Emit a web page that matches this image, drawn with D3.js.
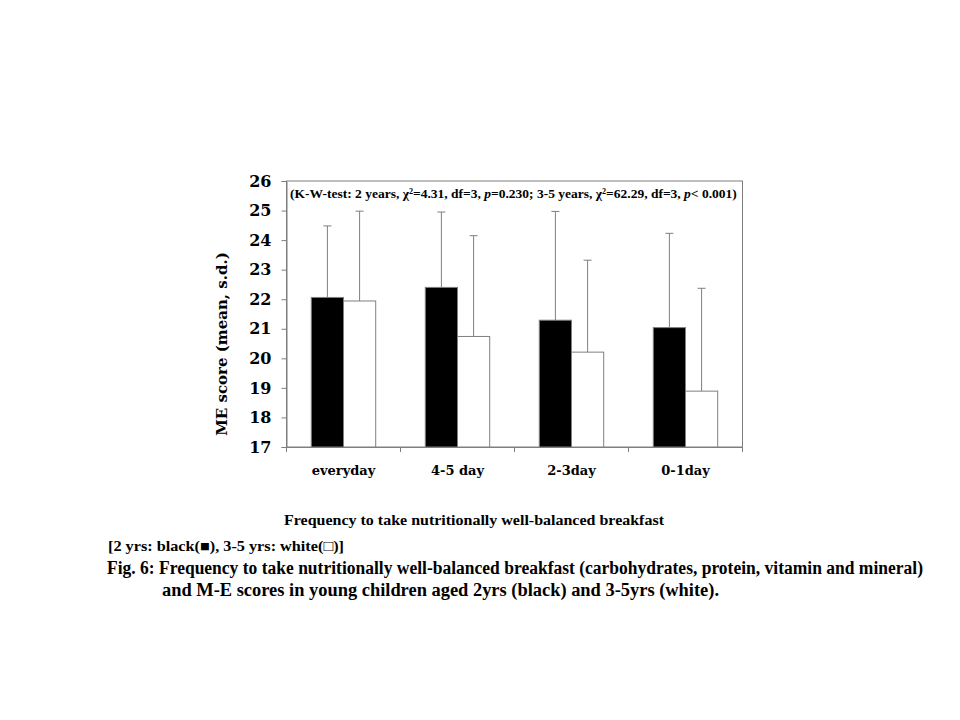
<!DOCTYPE html>
<html>
<head>
<meta charset="utf-8">
<script src="https://cdn.jsdelivr.net/npm/d3@7"></script>
<style>
  body { margin: 0; background: #fff; }
  svg text { fill: #000; }
</style>
</head>
<body>
<svg id="chart" width="960" height="720"></svg>
<script>
// values (mean and s.d.)
var categories = ["everyday", "4-5 day", "2-3day", "0-1day"];
var series = ["2 yrs", "3-5 yrs"];
var mean2yrs = [22.06, 22.40, 21.29, 21.04];
var sd2yrs = [2.42, 2.55, 3.68, 3.19];
var mean35yrs = [21.94, 20.74, 20.21, 18.89];
var sd35yrs = [3.04, 3.41, 3.11, 3.48];
var yTicks = [17, 18, 19, 20, 21, 22, 23, 24, 25, 26];

var svg = d3.select("#chart");
var margin = {left: 286.5, top: 181, right: 742.5, bottom: 447};
var gray = "#7f7f7f";

var x = d3.scaleBand()
    .domain(categories)
    .range([margin.left, margin.right]);

var xInner = d3.scaleBand()
    .domain(series)
    .range([0, x.bandwidth()])
    .paddingOuter(0.77)
    .paddingInner(0);

var y = d3.scaleLinear()
    .domain([17, 26])
    .range([margin.bottom, margin.top]);

var fill = d3.scaleOrdinal()
    .domain(series)
    .range(["#000000", "#ffffff"]);

var data = [];
categories.forEach(function (c, i) {
    data.push({cat: c, s: series[0], mean: mean2yrs[i], sd: sd2yrs[i]});
    data.push({cat: c, s: series[1], mean: mean35yrs[i], sd: sd35yrs[i]});
});

// plot frame
svg.append("rect")
    .attr("x", margin.left)
    .attr("y", margin.top)
    .attr("width", margin.right - margin.left)
    .attr("height", margin.bottom - margin.top)
    .style("fill", "none")
    .style("stroke", gray);

// y axis
var gY = svg.append("g")
    .attr("transform", "translate(" + margin.left + ",0)")
    .call(d3.axisLeft(y).tickValues(yTicks).tickSize(5).tickPadding(10).tickFormat(d3.format("d")));
gY.selectAll("line, path").style("stroke", gray);
gY.selectAll("text")
    .style("font-family", "'DejaVu Serif', serif")
    .style("font-weight", "bold")
    .style("font-size", "16px");

// x axis: ticks between categories
var bounds = categories.map(function (c) { return x(c); }).concat([margin.right]);
svg.append("g").selectAll("line")
    .data(bounds)
    .enter().append("line")
    .attr("x1", function (d) { return d; })
    .attr("x2", function (d) { return d; })
    .attr("y1", margin.bottom)
    .attr("y2", margin.bottom + 5)
    .style("stroke", gray);

var gX = svg.append("g")
    .attr("transform", "translate(0," + margin.bottom + ")")
    .call(d3.axisBottom(x).tickSize(0).tickPadding(19));
gX.select("path.domain").style("stroke", gray);
gX.selectAll("text")
    .style("font-family", "'DejaVu Serif', serif")
    .style("font-weight", "bold")
    .style("font-size", "13px");

// bars
svg.append("g").selectAll("rect")
    .data(data)
    .enter().append("rect")
    .attr("x", function (d) { return x(d.cat) + xInner(d.s); })
    .attr("y", function (d) { return y(d.mean); })
    .attr("width", xInner.bandwidth())
    .attr("height", function (d) { return y(17) - y(d.mean); })
    .style("fill", function (d) { return fill(d.s); })
    .style("stroke", gray);

// error bars (upper only)
function cx(d) { return x(d.cat) + xInner(d.s) + xInner.bandwidth() / 2; }
var err = svg.append("g").selectAll("g")
    .data(data)
    .enter().append("g");
err.append("line")
    .attr("x1", cx)
    .attr("x2", cx)
    .attr("y1", function (d) { return y(d.mean); })
    .attr("y2", function (d) { return y(d.mean + d.sd); })
    .style("stroke", gray);
err.append("line")
    .attr("x1", function (d) { return cx(d) - 4; })
    .attr("x2", function (d) { return cx(d) + 4; })
    .attr("y1", function (d) { return y(d.mean + d.sd); })
    .attr("y2", function (d) { return y(d.mean + d.sd); })
    .style("stroke", gray);

// K-W test note
var note = svg.append("text")
    .attr("x", 290)
    .attr("y", 198)
    .style("font-family", "'Liberation Serif', serif")
    .style("font-weight", "bold")
    .style("font-size", "13.5px");
note.append("tspan").text("(K-W-test:  2 years, \u03C7\u00B2=4.31, df=3, ");
note.append("tspan").style("font-style", "italic").text("p");
note.append("tspan").text("=0.230; 3-5 years, \u03C7\u00B2=62.29, df=3, ");
note.append("tspan").style("font-style", "italic").text("p");
note.append("tspan").text("< 0.001)");

// y label
svg.append("text")
    .attr("transform", "translate(227,344) rotate(-90)")
    .attr("text-anchor", "middle")
    .style("font-family", "'DejaVu Serif', serif")
    .style("font-weight", "bold")
    .style("font-size", "15px")
    .text("ME score (mean, s.d.)");

// x title
svg.append("text")
    .attr("x", 284)
    .attr("y", 525)
    .attr("textLength", 380)
    .attr("lengthAdjust", "spacingAndGlyphs")
    .style("font-family", "'Liberation Serif', serif")
    .style("font-weight", "bold")
    .style("font-size", "14px")
    .text("Frequency to take nutritionally  well-balanced  breakfast");

// legend note
svg.append("text")
    .attr("x", 108)
    .attr("y", 551)
    .attr("textLength", 236)
    .attr("lengthAdjust", "spacingAndGlyphs")
    .style("font-family", "'Liberation Serif', serif")
    .style("font-weight", "bold")
    .style("font-size", "15px")
    .text("[2 yrs: black(\u25A0), 3-5 yrs: white(\u25A1)]");

// caption
svg.append("text")
    .attr("x", 107)
    .attr("y", 574)
    .attr("textLength", 816)
    .attr("lengthAdjust", "spacingAndGlyphs")
    .style("font-family", "'Liberation Serif', serif")
    .style("font-weight", "bold")
    .style("font-size", "18px")
    .text("Fig. 6: Frequency to take nutritionally well-balanced breakfast (carbohydrates, protein, vitamin and mineral)");

svg.append("text")
    .attr("x", 162)
    .attr("y", 596)
    .attr("textLength", 557)
    .attr("lengthAdjust", "spacingAndGlyphs")
    .style("font-family", "'Liberation Serif', serif")
    .style("font-weight", "bold")
    .style("font-size", "18px")
    .text("and M-E scores in young children aged 2yrs (black) and 3-5yrs (white).");
</script>
</body>
</html>
